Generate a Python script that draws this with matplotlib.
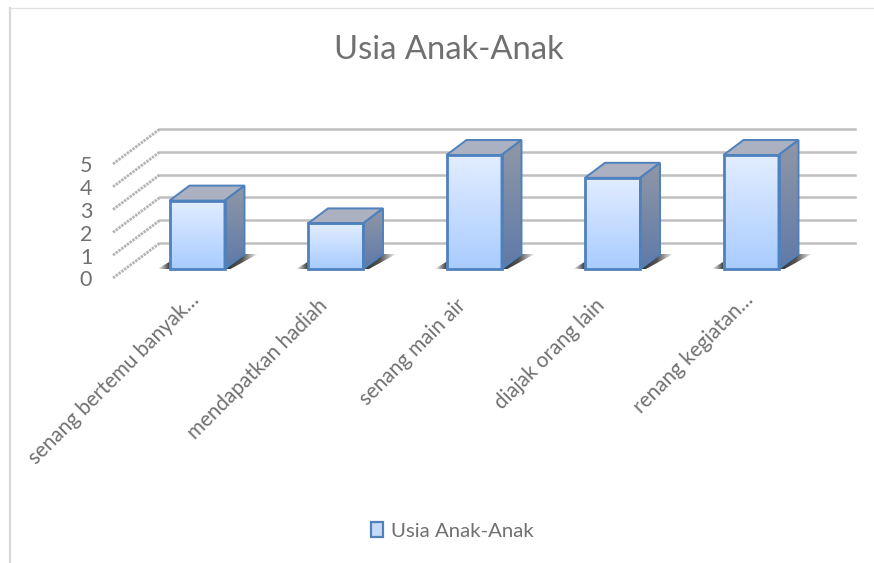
import numpy as np
import matplotlib
matplotlib.use('Agg')
import matplotlib.pyplot as plt
from matplotlib.colors import LinearSegmentedColormap
from matplotlib.patches import Patch, Polygon

categories = ['senang bertemu banyak…', 'mendapatkan hadiah', 'senang main air',
              'diajak orang lain', 'renang kegiatan…']
values = [3, 2, 5, 4, 5]
value_ticks = [0, 1, 2, 3, 4, 5]
series_name = 'Usia Anak-Anak'

plt.rcParams['font.family'] = ['Lato', 'DejaVu Sans']
TEXT = '#707070'
EDGE = '#4f81bd'

# kanvas 874x563, satu kategori = 138.5 px, satu nilai = 22.8 px
W, H = 874, 563
CAT, UNIT = 138.5, 22.8
X0, Y0 = 197, 269
fig = plt.figure(figsize=(W / 100, H / 100), dpi=100)
ax = fig.add_axes([0, 0, 1, 1])
ax.axis('off')

half = 27.5 / CAT
dx, dy = 20 / CAT, 15 / UNIT    # kedalaman batang
back_x, back_y = -37 / CAT, 26 / UNIT   # dinding belakang
front_x, front_y = -84 / CAT, -9 / UNIT  # ujung depan garis miring
right_x = (855 - X0) / CAT

front_cmap = LinearSegmentedColormap.from_list('f', ['#e2edff', '#a9ccff'])
side_cmap = LinearSegmentedColormap.from_list('s', ['#9097a6', '#5f7aa8'])
shadow_l = LinearSegmentedColormap.from_list('sl', [(0.2, 0.2, 0.2, 0), (0.2, 0.2, 0.2, 1)])
shadow_r = LinearSegmentedColormap.from_list('sr', [(0.2, 0.2, 0.2, 1), (0.2, 0.2, 0.2, 0.85), (0.2, 0.2, 0.2, 0)])


def gradient(points, cmap, vertical=True, z=3):
    pts = np.array(points)
    grad = np.linspace(0, 1, 64).reshape(-1, 1) if vertical else np.linspace(0, 1, 64).reshape(1, -1)
    extent = [pts[:, 0].min(), pts[:, 0].max(), pts[:, 1].min(), pts[:, 1].max()]
    im = ax.imshow(grad, cmap=cmap, extent=extent, origin='upper', aspect='auto', zorder=z)
    clip = Polygon(pts, closed=True, transform=ax.transData)
    im.set_clip_path(clip)


# garis kisi
for v in value_ticks:
    ax.plot([back_x, right_x], [v + back_y, v + back_y], color='#bfbfbf', lw=1.8, zorder=1)
    ax.plot([front_x, back_x], [v + front_y, v + back_y], color='#b5b5b5', lw=2.0,
            linestyle=(0, (0.9, 0.35)), zorder=1)
    ax.text(front_x - 27 / CAT, v + front_y - 2.5 / UNIT, str(v), ha='center', va='center',
            fontsize=15.5, color=TEXT)

# batang 3D
for i, v in enumerate(values):
    l, r = i - half, i + half
    # bayangan
    s = 12 / CAT
    gradient([(l - s, 0), (l, 0.32), (l, 0)], shadow_l, vertical=False, z=2)
    gradient([(r, 0), (r + dx, dy), (r + dx + s * 1.1, dy), (r + 6 / CAT, 0)], shadow_r, vertical=False, z=2)
    front = [(l, 0), (r, 0), (r, v), (l, v)]
    side = [(r, 0), (r + dx, dy), (r + dx, v + dy), (r, v)]
    top = [(l, v), (r, v), (r + dx, v + dy), (l + dx, v + dy)]
    gradient(side, side_cmap, z=3)
    gradient(front, front_cmap, z=4)
    ax.add_patch(Polygon(top, closed=True, fc='#abb1c0', ec='none', zorder=3))
    ax.add_patch(Polygon(side, closed=True, fc='none', ec=EDGE, lw=1.4, zorder=4))
    ax.add_patch(Polygon(top, closed=True, fc='none', ec=EDGE, lw=1.4, zorder=4))
    ax.add_patch(Polygon(front, closed=True, fc='none', ec=EDGE, lw=2.0, zorder=5))
    # label terpotong sedikit lebih ke kanan atas
    cut = categories[i].endswith('…')
    ax.text(i + (-1 if cut else -11) / CAT, (-28 if cut else -33) / UNIT, categories[i], rotation=45,
            rotation_mode='anchor', ha='right', va='center', fontsize=14.9, color=TEXT)

ax.set_xlim(-X0 / CAT, (W - X0) / CAT)
ax.set_ylim((Y0 - H) / UNIT, Y0 / UNIT)

fig.text(449 / W, 1 - 50 / H, series_name, ha='center', va='center', fontsize=23.6, color=TEXT)

handle = Patch(fc='#c6daf8', ec=EDGE, lw=1.6, label=series_name)
fig.legend(handles=[handle], loc='center', bbox_to_anchor=(452 / W, 1 - 531 / H), frameon=False,
           fontsize=14.7, labelcolor=TEXT, handlelength=0.62, handleheight=0.75, handletextpad=0.35)

# bingkai kiri dan atas
fig.add_artist(plt.Line2D([10 / W, 10 / W], [0, 1 - 7.5 / H], color='#d9d9d9', lw=1.6))
fig.add_artist(plt.Line2D([10 / W, 1], [1 - 7.5 / H, 1 - 7.5 / H], color='#e2e2e2', lw=0.9))

fig.savefig('out.png', dpi=100)
